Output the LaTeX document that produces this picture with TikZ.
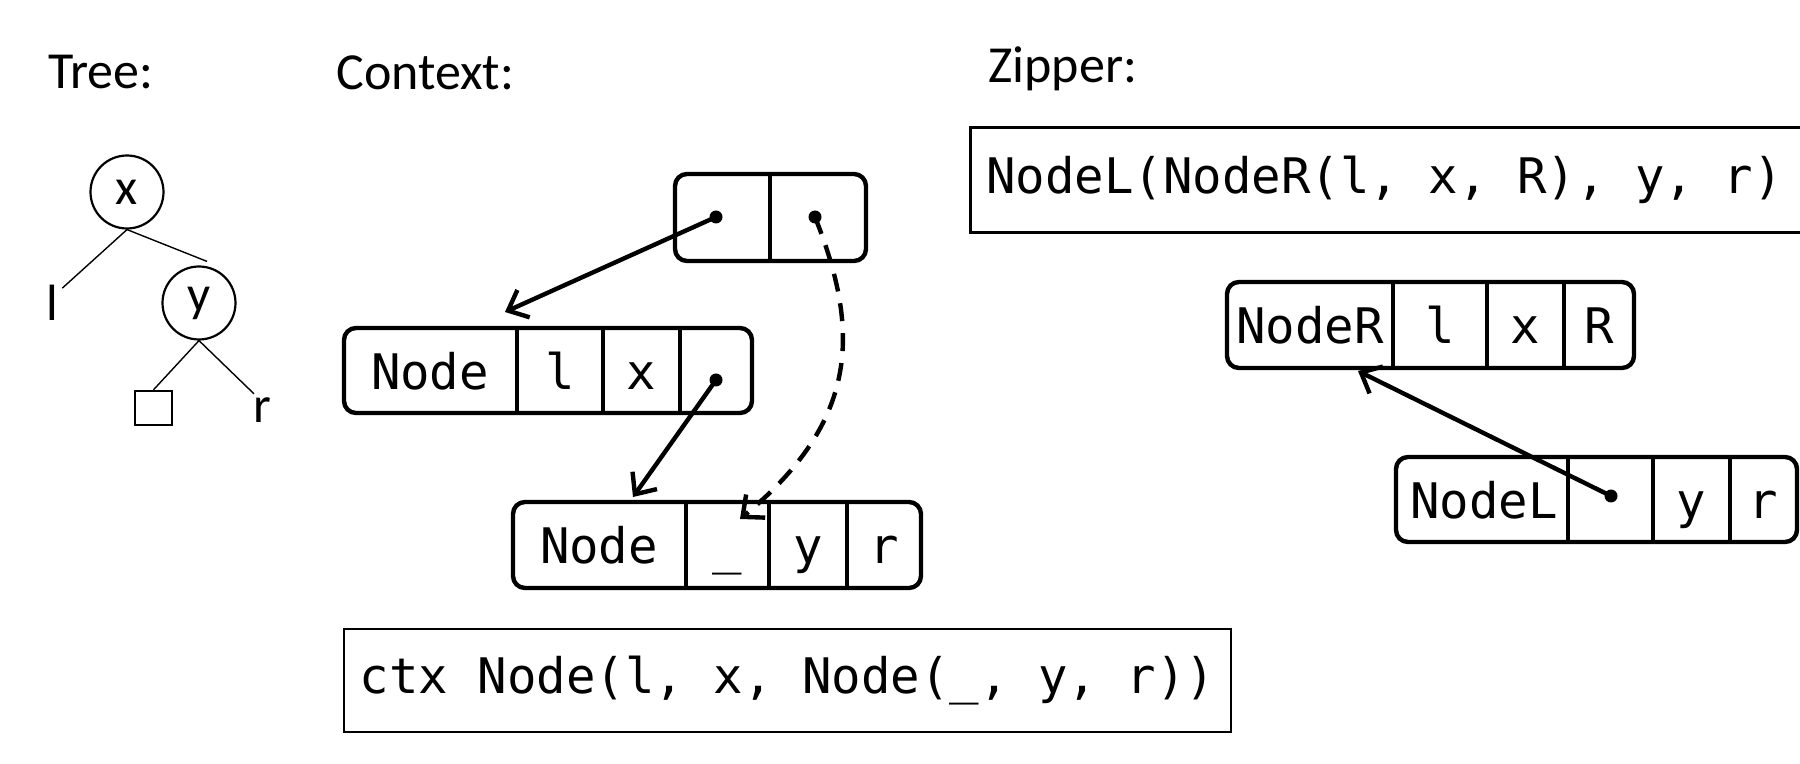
\documentclass[tikz,border=0pt]{standalone}
\usepackage{fontspec}
\setmainfont{Carlito}
\newfontfamily\codefont{DejaVu Sans Mono}
\usetikzlibrary{arrows.meta}
\begin{document}
\begin{tikzpicture}[x=0.5pt,y=-0.5pt,
  lbl/.style={font=\fontsize{26}{30}\selectfont, inner sep=0pt, anchor=base west},
  tnode/.style={circle, draw, line width=1.1pt, minimum size=36.5pt, inner sep=0pt, font=\fontsize{25.5}{30}\selectfont},
  tleaf/.style={inner sep=0pt, font=\fontsize{25.5}{30}\selectfont, anchor=base},
  tedge/.style={line width=0.7pt},
  rec/.style={draw, rounded corners=6pt, line width=2.2pt, inner sep=0pt, outer sep=0pt, anchor=north west},
  cell/.style={font=\codefont\fontsize{24.5}{28}\selectfont, inner sep=0pt, anchor=base},
  div/.style={line width=2.2pt},
  code/.style={draw, line width=1.4pt, font=\codefont\fontsize{24.5}{28}\selectfont},
  dot/.style={circle, fill, inner sep=0pt, minimum size=6.5pt},
  arr/.style={line width=2.2pt, -{Straight Barb[length=8.5pt,width=15pt]}},
]
\clip (0,0) rectangle (1800,764);

% titles
\node[lbl] (ttree) at (48,89) {Tree:};
\node[lbl] (tctx) at (336,90) {Context:};
\node[lbl] (tzip) at (988,83) {Zipper:};

% tree
\node[tnode] (tx) at (127,192) {x};
\node[tnode] (ty) at (199,303) {y};
\node[tleaf] (tl) at (52,321) {l};
\node[draw, line width=1.2pt, minimum width=18.5pt, minimum height=17pt, inner sep=0pt] (tsq) at (153.5,408) {};
\node[tleaf] (tr) at (262,423) {r};
\draw[tedge] (tx.south) -- ([shift={(4,3)}]tl.north east);
\draw[tedge] (tx.south) -- ([shift={(8,-4)}]ty.north);
\draw[tedge] (ty.south) -- (tsq.north);
\draw[tedge] (ty.south) -- ([shift={(-8,-4)}]tr.north);

% context records
\node[rec, minimum width=95.5pt, minimum height=43.5pt] (c0) at (675,174) {};
\draw[div] (770,174) -- (770,261);
\node[dot] (d0a) at (716,217) {};
\node[dot] (d0b) at (815,217) {};

\node[rec, minimum width=204pt, minimum height=42.5pt] (c1) at (344,328) {};
\draw[div] (517,328) -- (517,413);
\draw[div] (603,328) -- (603,413);
\draw[div] (680,328) -- (680,413);
\node[cell] (c1n) at (430,390) {Node};
\node[cell] (c1l) at (560,390) {l};
\node[cell] (c1x) at (641,390) {x};
\node[dot] (d1) at (716,380) {};

\node[rec, minimum width=204pt, minimum height=43pt] (c2) at (513,502) {};
\draw[div] (686,502) -- (686,588);
\draw[div] (769,502) -- (769,588);
\draw[div] (847,502) -- (847,588);
\node[cell] (c2n) at (599,564) {Node};
\node[cell] (c2u) at (727,564) {\_};
\node[cell] (c2y) at (808,564) {y};
\node[cell] (c2r) at (884,564) {r};

\draw[arr] (d0a.center) -- ([shift={(161,-16)}]c1.north west);
\draw[arr] (d1.center) -- ([shift={(120,-5)}]c2.north west);
\draw[arr, dash pattern=on 9pt off 6pt] (d0b.center) .. controls (860,330) and (860,420) .. ([shift={(227,17)}]c2.north west);

\node[code, minimum width=443.5pt, minimum height=51.5pt] (cc) at (787.5,680.5) {ctx Node(l, x, Node(\_, y, r))};

% zipper
\node[code, anchor=north west, minimum height=52.5pt, inner xsep=8pt] (zc) at (969,126) {\makebox[407pt][l]{NodeL(NodeR(l, x, R), y, r)}};

\node[rec, minimum width=203.5pt, minimum height=43pt] (zr) at (1227,282) {};
\draw[div] (1393,282) -- (1393,368);
\draw[div] (1487,282) -- (1487,368);
\draw[div] (1564,282) -- (1564,368);
\node[cell] (zrn) at (1310,344) {NodeR};
\node[cell] (zrl) at (1440,344) {l};
\node[cell] (zrx) at (1525,344) {x};
\node[cell] (zrr) at (1599,344) {R};

\node[rec, minimum width=200.5pt, minimum height=42.5pt] (zl) at (1396,457) {};
\draw[div] (1568,457) -- (1568,542);
\draw[div] (1653,457) -- (1653,542);
\draw[div] (1730,457) -- (1730,542);
\node[cell] (zln) at (1484,519) {NodeL};
\node[cell] (zly) at (1691,519) {y};
\node[cell] (zlr) at (1763,519) {r};
\node[dot] (zld) at (1611,496) {};
\draw[arr] (zld.center) -- ([shift={(131,3)}]zr.south west);
\end{tikzpicture}
\end{document}
